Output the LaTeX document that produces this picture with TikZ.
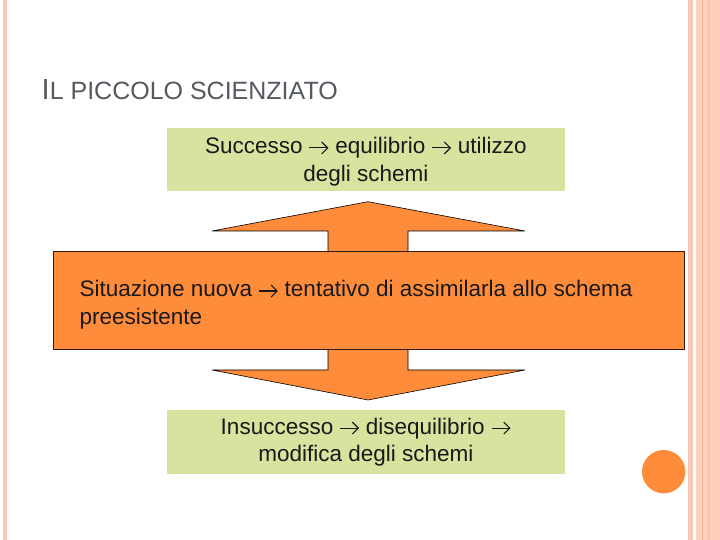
\documentclass[tikz,border=0pt]{standalone}
\usepackage{fontspec}
\setmainfont{Liberation Sans}
\usetikzlibrary{arrows.meta}
\definecolor{arancio}{RGB}{255,140,58}
\definecolor{verdino}{RGB}{215,228,160}
\definecolor{rosa}{RGB}{248,200,185}
\definecolor{pesca}{RGB}{255,208,190}
\definecolor{pescascuro}{RGB}{250,180,150}
\definecolor{pescamedio}{RGB}{255,195,175}
\definecolor{grigiotitolo}{RGB}{85,90,96}
\definecolor{bordo}{RGB}{50,25,10}
\newcommand\freccina{\tikz[baseline={(0pt,-6pt)}]
  \draw[line width=1.1pt, -{Straight Barb[length=6pt,width=12pt]}] (0pt,0pt) -- (19pt,0pt);}

\begin{document}
\begin{tikzpicture}[x=1pt,y=1pt]

\tikzset{testo/.style = {inner sep=0pt, align=center, text=black!90,
                         font=\fontsize{22.5}{27.5}\selectfont},
         verde/.style = {testo, fill=verdino, minimum width=398pt},
         scatola/.style = {fill=arancio, draw=bordo, line width=.8pt,
                           minimum width=631pt, minimum height=98pt},
         freccia/.style = {fill=arancio, draw=black, line width=.6pt}}

\useasboundingbox (0,0) rectangle (720,540);

% bordi della diapositiva
\fill[rosa] (3.3,0) rectangle (7.3,540);
\fill[rosa] (688,0) rectangle (692.5,540);
\fill[pesca] (696,0) rectangle (720,540);
\fill[pescascuro] (702,0) rectangle (703.2,540);
\fill[pescamedio] (706.7,0) rectangle (710,540);
\node[circle, fill=arancio, minimum size=43.4pt, inner sep=0pt] (pallino) at (663.7,68.3) {};

% titolo
\node[anchor=base west, inner sep=0pt, text=grigiotitolo] (titolo) at (41.5,440)
  {{\fontsize{29}{29}\selectfont I}\fontsize{25}{25}\selectfont L PICCOLO SCIENZIATO};

% frecce
\filldraw[freccia] (328,285) -- (328,309) -- (212,309) -- (368,338.3)
  -- (525,309) -- (408,309) -- (408,285) -- cycle;
\filldraw[freccia] (328,195) -- (328,170) -- (212,170) -- (368,140)
  -- (525,170) -- (408,170) -- (408,195) -- cycle;

\node[scatola] (situazione) at (368.7,239.2) {};
\node[testo, align=left, anchor=base west] (testomedio) at (79.3,215.5)
  {Situazione nuova \freccina{} tentativo di assimilarla allo schema\\preesistente};

\node[verde, minimum height=62.5pt] (successo) at (365.9,380.5)
  {\rule{0pt}{21pt}Successo \freccina{} equilibrio \freccina{} utilizzo\\degli schemi};
\node[verde, minimum height=64pt] (insuccesso) at (365.9,98)
  {Insuccesso \freccina{} disequilibrio \freccina\\modifica degli schemi};

\end{tikzpicture}
\end{document}
